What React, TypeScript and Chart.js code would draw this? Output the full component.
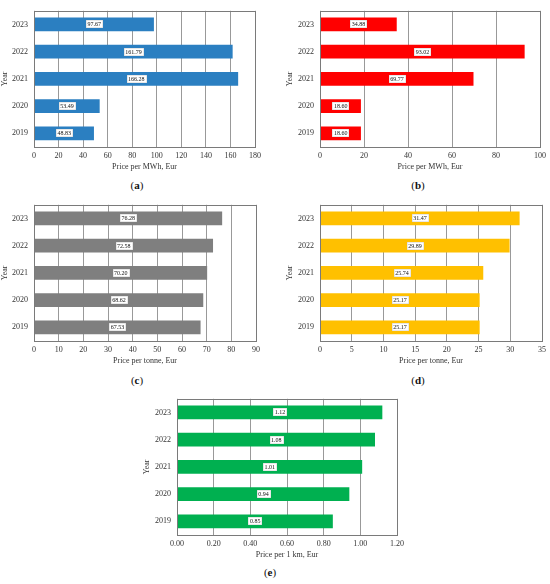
import React, { useEffect, useRef } from 'react';
import { Chart, registerables } from 'chart.js';

Chart.register(...registerables);

const years = ['2019', '2020', '2021', '2022', '2023'];
const valuesA = [48.83, 53.49, 166.28, 161.79, 97.67];
const valuesB = [18.6, 18.6, 69.77, 93.02, 34.88];
const valuesC = [67.53, 68.62, 70.2, 72.58, 76.28];
const valuesD = [25.17, 25.17, 25.74, 29.89, 31.47];
const valuesE = [0.85, 0.94, 1.01, 1.08, 1.12];
const xTitles = ['Price per MWh, Eur', 'Price per MWh, Eur', 'Price per tonne, Eur', 'Price per tonne, Eur', 'Price per 1 km, Eur'];
const captions = ['a', 'b', 'c', 'd', 'e'];
const FONT = '"Liberation Serif", "DejaVu Serif", serif';

type Panel = {
  values: number[];
  color: string;
  max: number;
  step: number;
  decimals: number;
  xTitle: string;
  caption: string;
  left: number;
  top: number;
  width: number;
  height: number;
  padLeft: number;
  yW: number;
  padRight: number;
  capX: number;
  capY: number;
};

const panels: Panel[] = [
  { values: valuesA, color: '#2b7fc1', max: 180, step: 20, decimals: 0, xTitle: xTitles[0], caption: captions[0], left: 0, top: 0, width: 275, height: 175, padLeft: 0, yW: 34, padRight: 20, capX: 137, capY: 185 },
  { values: valuesB, color: '#ff0000', max: 100, step: 20, decimals: 0, xTitle: xTitles[1], caption: captions[1], left: 275, top: 0, width: 275, height: 175, padLeft: 10, yW: 35, padRight: 9, capX: 418, capY: 185 },
  { values: valuesC, color: '#7f7f7f', max: 90, step: 10, decimals: 0, xTitle: xTitles[2], caption: captions[2], left: 0, top: 194, width: 275, height: 175, padLeft: 0, yW: 34, padRight: 19, capX: 137, capY: 380 },
  { values: valuesD, color: '#ffc000', max: 35, step: 5, decimals: 0, xTitle: xTitles[3], caption: captions[3], left: 275, top: 194, width: 275, height: 175, padLeft: 10, yW: 35, padRight: 8, capX: 418, capY: 380 },
  { values: valuesE, color: '#00b050', max: 1.2, step: 0.2, decimals: 2, xTitle: xTitles[4], caption: captions[4], left: 130, top: 388, width: 290, height: 175, padLeft: 12, yW: 35, padRight: 23, capX: 270, capY: 572 },
];

const framePlugin = {
  id: 'frame',
  afterDatasetsDraw(chart: any) {
    const { ctx, chartArea } = chart;
    ctx.save();
    ctx.strokeStyle = '#7a7a7a';
    ctx.lineWidth = 1;
    ctx.strokeRect(Math.round(chartArea.left) + 0.5, Math.round(chartArea.top) + 0.5, Math.round(chartArea.right - chartArea.left), Math.round(chartArea.bottom - chartArea.top));
    ctx.restore();
  },
};

const labelPlugin = {
  id: 'barLabels',
  afterDraw(chart: any) {
    const ctx = chart.ctx;
    const meta = chart.getDatasetMeta(0);
    const data = chart.data.datasets[0].data;
    ctx.save();
    ctx.font = `6px ${FONT}`;
    meta.data.forEach((el: any, i: number) => {
      const { x, y, base } = el.getProps(['x', 'y', 'base'], true);
      const cx = (x + base) / 2;
      const text = Number(data[i]).toFixed(2);
      const w = ctx.measureText(text).width + 3;
      const h = 8;
      ctx.fillStyle = '#ffffff';
      ctx.fillRect(Math.round(cx - w / 2), Math.round(y - h / 2), Math.round(w), h);
      ctx.strokeStyle = '#d0d0d0';
      ctx.lineWidth = 0.5;
      ctx.strokeRect(Math.round(cx - w / 2) + 0.25, Math.round(y - h / 2) + 0.25, Math.round(w) - 0.5, h - 0.5);
      ctx.fillStyle = '#111';
      ctx.textAlign = 'center';
      ctx.textBaseline = 'middle';
      ctx.fillText(text, cx, y + 0.5);
    });
    ctx.restore();
  },
};

function BarPanel({ p }: { p: Panel }) {
  const ref = useRef<HTMLCanvasElement>(null);
  useEffect(() => {
    if (!ref.current) return;
    const chart = new Chart(ref.current, {
      type: 'bar',
      data: {
        labels: years,
        datasets: [
          {
            data: p.values,
            backgroundColor: p.color,
            borderWidth: 0,
            barPercentage: 0.5,
            categoryPercentage: 1,
          },
        ],
      },
      options: {
        indexAxis: 'y',
        animation: false,
        responsive: false,
        plugins: { legend: { display: false }, tooltip: { enabled: false } },
        layout: { padding: { left: p.padLeft, right: p.padRight, top: 6, bottom: 0 } },
        scales: {
          x: {
            min: 0,
            max: p.max,
            ticks: {
              stepSize: p.step,
              callback: (v: any) => Number(v).toFixed(p.decimals),
              font: { family: FONT, size: 8 },
              color: '#333',
              padding: 4,
            },
            grid: { color: '#999999', drawTicks: false, lineWidth: 1 },
            border: { display: false },
            title: { display: true, text: p.xTitle, font: { family: FONT, size: 8 }, color: '#333', padding: { top: 0, bottom: 3 } },
            afterFit: (s: any) => {
              s.height = 28;
            },
          },
          y: {
            reverse: true,
            grid: { display: false, drawTicks: false },
            border: { display: false },
            ticks: { font: { family: FONT, size: 8 }, color: '#333', padding: 6 },
            title: { display: true, text: 'Year', font: { family: FONT, size: 8 }, color: '#333', padding: { top: 0, bottom: 0 } },
            afterFit: (s: any) => {
              s.width = p.yW;
            },
          },
        },
      } as any,
      plugins: [framePlugin, labelPlugin],
    });
    return () => chart.destroy();
  }, [p]);
  return (
    <>
      <canvas
        ref={ref}
        width={p.width}
        height={p.height}
        style={{ position: 'absolute', left: p.left, top: p.top, width: p.width, height: p.height, display: 'block' }}
      />
      <div
        style={{
          position: 'absolute',
          left: p.capX,
          top: p.capY,
          transform: 'translate(-50%, -50%)',
          fontFamily: FONT,
          fontSize: 11,
          color: '#111',
          whiteSpace: 'nowrap',
        }}
      >
        (<b>{p.caption}</b>)
      </div>
    </>
  );
}

export default function App() {
  return (
    <div style={{ position: 'absolute', left: 0, top: 0, width: 550, height: 584, background: '#fff', overflow: 'hidden' }}>
      {panels.map((p, i) => (
        <BarPanel key={i} p={p} />
      ))}
    </div>
  );
}
